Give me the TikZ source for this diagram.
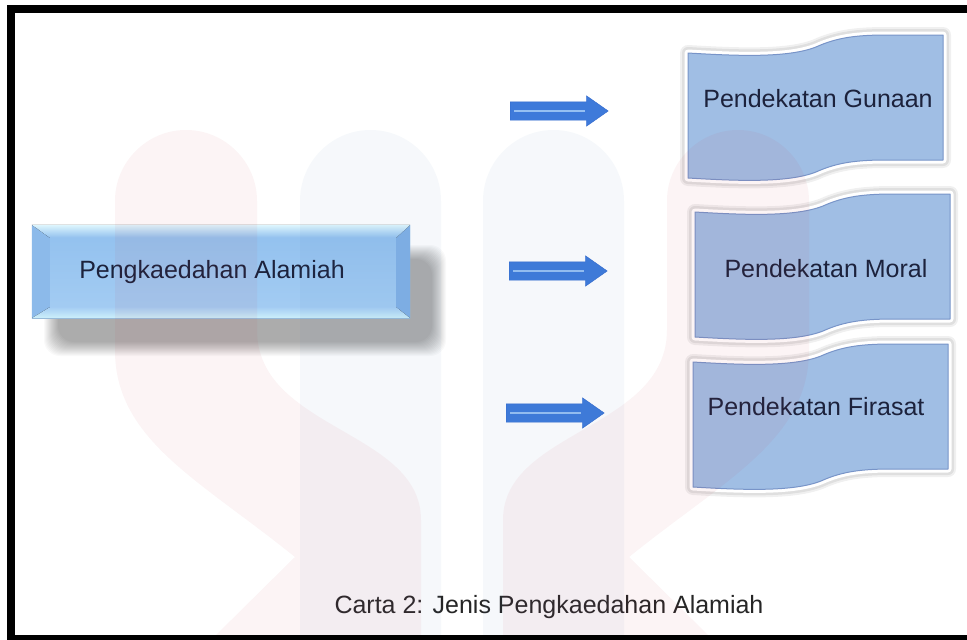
\documentclass[tikz,border=0pt]{standalone}
\usepackage{fontspec}
\setmainfont{Liberation Sans}
\usetikzlibrary{shapes.arrows,calc}

\definecolor{inkblue}{RGB}{28,34,60}
\definecolor{facetop}{RGB}{145,192,238}
\definecolor{facebot}{RGB}{165,205,243}
\definecolor{bevellight}{RGB}{222,246,253}
\definecolor{bevelpale}{RGB}{205,240,250}
\definecolor{bevelleft}{RGB}{140,186,234}
\definecolor{bevelright}{RGB}{128,176,230}
\definecolor{bannerfill}{RGB}{160,190,228}
\definecolor{banneredge}{RGB}{120,148,200}
\definecolor{arrowfill}{RGB}{62,122,218}
\definecolor{arrowedge}{RGB}{50,105,205}
\definecolor{arrowlight}{RGB}{150,192,242}
\definecolor{wmpink}{RGB}{200,40,60}
\definecolor{wmblue}{RGB}{80,130,190}

\begin{document}
\begin{tikzpicture}[x=1pt, y=-1pt,
    bevelbox/.style={rectangle, minimum width=378pt, minimum height=93pt, inner sep=0pt, top color=facetop, bottom color=facebot},
    bantext/.style={font=\fontsize{25}{30}\selectfont, text=inkblue, inner sep=0pt},
    blockarrow/.style={single arrow, draw=arrowedge, fill=arrowfill, minimum height=98pt, text height=9pt, text depth=9pt, text width=0pt, single arrow head extend=6pt, single arrow head indent=0pt, single arrow tip angle=70, inner sep=0pt, anchor=tail},
    stripe/.style={draw=arrowlight, line width=2pt},
    wmark/.style={fill=#1, opacity=0.05},
    banner/.pic={
        \path[fill=bannerfill, draw=banneredge, line width=1pt, line join=round,
              preaction={draw=black, opacity=0.06, line width=16pt, line join=round},
              preaction={draw=black, opacity=0.07, line width=12pt, line join=round},
              preaction={draw=white, line width=7pt, line join=round}]
            (0,0) .. controls (50,3) and (100,5) .. (128,-6) .. controls (150,-16) and (170,-18) .. (200,-18)
            -- (255,-18) -- (255,107) -- (200,107) .. controls (170,107) and (150,109) .. (128,119)
            .. controls (100,130) and (50,128) .. (0,125) -- cycle;
    }
]
    \useasboundingbox (0,0) rectangle (967,640);
    \fill[white] (0,0) rectangle (967,640);

    % Left box with shadow
    \foreach \i in {0,...,14}
        \fill[black, opacity=0.022, rounded corners=16pt] (44+\i,245+\i) rectangle (446-\i,356-\i);
    \node[bevelbox] (alamiah) at (221,271.5) {};
    \fill[bevelleft] (alamiah.north west) -- ($(alamiah.north west)+(18,13)$) -- ($(alamiah.south west)+(18,-11)$) -- (alamiah.south west) -- cycle;
    \fill[bevelright] (alamiah.north east) -- ($(alamiah.north east)+(-14,13)$) -- ($(alamiah.south east)+(-14,-11)$) -- (alamiah.south east) -- cycle;
    \fill[top color=bevellight, bottom color=facetop] (alamiah.north west) -- (alamiah.north east) -- ($(alamiah.north east)+(-14,13)$) -- ($(alamiah.north west)+(18,13)$) -- cycle;
    \fill[top color=facebot, bottom color=bevelpale] (alamiah.south west) -- (alamiah.south east) -- ($(alamiah.south east)+(-14,-11)$) -- ($(alamiah.south west)+(18,-11)$) -- cycle;
    \node[bantext, anchor=base] (alamiahtext) at (212,278) {Pengkaedahan Alamiah};

    % Banners
    \foreach \x/\y in {688/53, 695/212, 693/362}
        \pic at (\x,\y) {banner};
    \node[bantext, anchor=base] (gunaan) at (818,107) {Pendekatan Gunaan};
    \node[bantext, anchor=base] (moral) at (826,277) {Pendekatan Moral};
    \node[bantext, anchor=base] (firasat) at (816,415) {Pendekatan Firasat};

    % Arrows
    \node[blockarrow] (arrowg) at (510,111) {};
    \node[blockarrow] (arrowm) at (509,271) {};
    \node[blockarrow] (arrowf) at (506,413) {};
    \foreach \a in {arrowg, arrowm, arrowf}
        \draw[stripe] ([xshift=4pt]\a.tail) -- ([xshift=-24pt]\a.tip);

    \node[font=\fontsize{25}{30}\selectfont, text=black!85, anchor=base, inner sep=0pt] (carta) at (549,613) {Carta 2: Jenis Pengkaedahan Alamiah};

    % Watermark
    \foreach \x in {300, 483}
        \fill[wmark=wmblue] (\x,640) -- (\x,201) .. controls (\x,162) and (\x+31.5,130) .. (\x+70.5,130)
            .. controls (\x+109.5,130) and (\x+141,162) .. (\x+141,201) -- (\x+141,640) -- cycle;
    \fill[wmark=wmpink] (211,640) -- (295,557) .. controls (200,480) and (115,440) .. (115,350) -- (115,201)
        .. controls (115,162) and (147,130) .. (186,130) .. controls (225,130) and (257,162) .. (257,201)
        -- (257,330) .. controls (257,430) and (421,430) .. (421,520) -- (421,640) -- cycle;
    \fill[wmark=wmpink] (713,640) -- (629,557) .. controls (724,480) and (809,440) .. (809,350) -- (809,201)
        .. controls (809,162) and (777,130) .. (738,130) .. controls (699,130) and (667,162) .. (667,201)
        -- (667,330) .. controls (667,430) and (503,430) .. (503,520) -- (503,640) -- cycle;

    % Frame
    \draw[line width=8pt] (967,9) -- (11,9) -- (11,640);
    \draw[line width=5pt] (7,637.5) -- (967,637.5);
\end{tikzpicture}
\end{document}
